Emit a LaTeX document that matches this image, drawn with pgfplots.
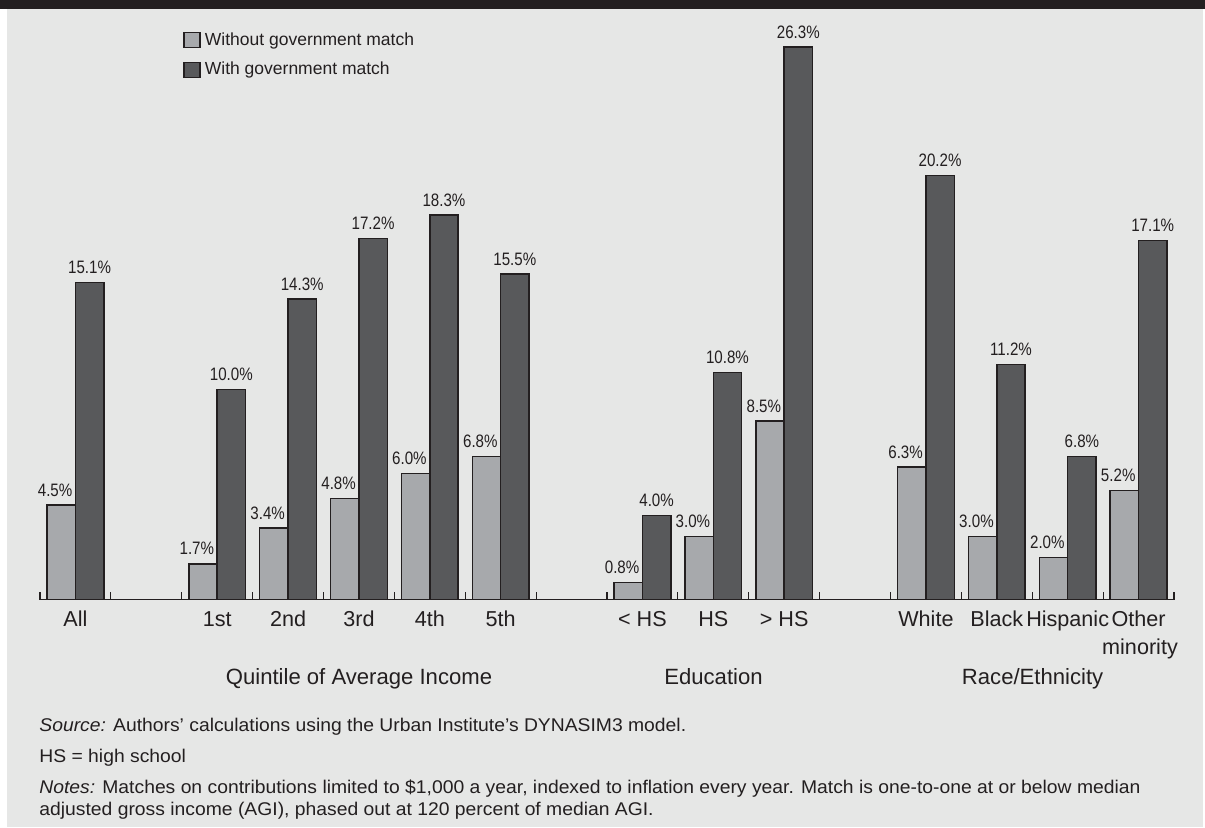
\documentclass[border=0pt]{standalone}
\usepackage{fontspec}
\setmainfont{Liberation Sans}
\newfontfamily\condfont{Liberation Sans}[FakeStretch=0.84]
\newfontfamily\notefont{Liberation Sans}[FakeStretch=1.05]
\usepackage{pgfplots}
\usepackage{pgfplotstable}
\pgfplotsset{compat=1.18}

\definecolor{bg}{HTML}{E6E7E6}
\definecolor{band}{HTML}{231F20}
\definecolor{lightbar}{HTML}{A7A9AC}
\definecolor{darkbar}{HTML}{58595B}
\definecolor{ink}{HTML}{231F20}

\pgfplotsset{square legend/.style={legend image code/.code={\draw[##1] (0pt,-3.75pt) rectangle (8pt,3.75pt);}}}

% slot positions: 0 = All, 2-6 = quintiles, 8-10 = education, 12-15 = race
\pgfplotstableread{
x  without with
0  4.5  15.1
2  1.7  10.0
3  3.4  14.3
4  4.8  17.2
5  6.0  18.3
6  6.8  15.5
8  0.8  4.0
9  3.0  10.8
10 8.5  26.3
12 6.3  20.2
13 3.0  11.2
14 2.0  6.8
15 5.2  17.1
}\datatable

\begin{document}
\begin{tikzpicture}[x=0.5pt,y=0.5pt]
  \fill[white] (0,0) rectangle (1205,827);
  \fill[bg] (7,0) rectangle (1203,818);
  \fill[band] (0,818) rectangle (1205,827);

  \begin{axis}[
    at={(20pt,113.75pt)}, anchor=south west,
    scale only axis, width=567pt, height=283.5pt,
    xmin=-0.5, xmax=15.5, ymin=0, ymax=27,
    enlargelimits=false,
    axis x line=bottom, axis y line=none,
    axis line style={-, ink, line width=0.6pt},
    ybar=0pt, bar width=0.4,
    xtick={0,2,3,4,5,6,8,9,10,12,13,14,15},
    xticklabels={All,1st,2nd,3rd,4th,5th,< HS,HS,> HS,White,Black,Hispanic,Other},
    minor xtick={-0.5,0.5,...,15.5},
    major tick length=0pt, minor tick length=4pt, tick align=inside,
    every tick/.style={ink, line width=0.6pt},
    xticklabel style={font=\fontsize{10.8}{12}\selectfont, text=ink, anchor=base, yshift=-13.25pt},
    /pgf/number format/assume math mode=true,
    nodes near coords={\pgfmathprintnumber[fixed,fixed zerofill,precision=1]{\pgfplotspointmeta}\%},
    nodes near coords style={font=\condfont\fontsize{9}{10}\selectfont, text=ink, anchor=south, inner sep=0pt, yshift=4pt},
    clip=false,
    legend style={at={(0.1261,1.008)}, anchor=north west, draw=none, fill=none,
      inner sep=0pt, font=\fontsize{8.75}{10.5}\selectfont, text=ink, row sep=3pt},
    legend cell align=left,
  ]
    % labels of the light bars sit flush with the bar's right edge
    \addplot[fill=lightbar, draw=ink, line width=0.75pt, square legend,
      nodes near coords style={anchor=south east, xshift=5.9pt}]
      table[x=x, y=without] {\datatable};
    \addplot[fill=darkbar, draw=ink, line width=0.75pt, square legend]
      table[x=x, y=with] {\datatable};
    \legend{Without government match, With government match}
  \end{axis}

  \begin{scope}[every node/.style={inner sep=0pt, text=ink}]
    \node[anchor=base, font=\fontsize{11.05}{12}\selectfont] at (359,143) {Quintile of Average Income};
    \node[anchor=base, font=\fontsize{11.05}{12}\selectfont] at (713.5,143) {Education};
    \node[anchor=base, font=\fontsize{11.05}{12}\selectfont] at (1032.6,143) {Race/Ethnicity};
    \node[anchor=base, font=\fontsize{10.8}{12}\selectfont] at (1140,173) {minority};
    \node[anchor=base west, font=\notefont\fontsize{9.2}{10}\selectfont] at (39,96)
      {\textit{Source:} Authors’ calculations using the Urban Institute’s DYNASIM3 model.};
    \node[anchor=base west, font=\notefont\fontsize{9.2}{10}\selectfont] at (39,65) {HS = high school};
    \node[anchor=base west, font=\notefont\fontsize{9.2}{10}\selectfont] at (39,34)
      {\textit{Notes:} Matches on contributions limited to \$1,000 a year, indexed to inflation every year. Match is one-to-one at or below median};
    \node[anchor=base west, font=\notefont\fontsize{9.2}{10}\selectfont] at (39,12)
      {adjusted gross income (AGI), phased out at 120 percent of median AGI.};
  \end{scope}

  \pgfresetboundingbox
  \path[use as bounding box] (0,0) rectangle (1205,827);
\end{tikzpicture}
\end{document}
